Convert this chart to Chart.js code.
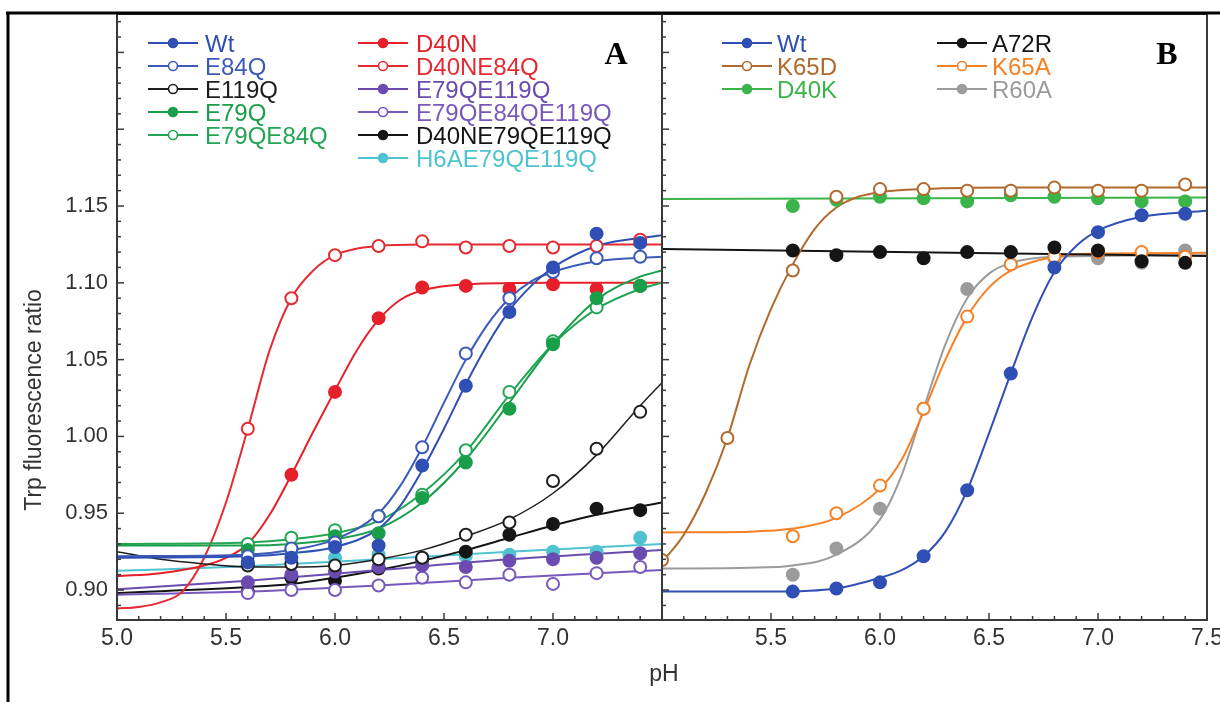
<!DOCTYPE html>
<html>
<head>
<meta charset="utf-8">
<script src="https://cdn.jsdelivr.net/npm/chart.js@4.4.1/dist/chart.umd.min.js"></script>
<style>
    html, body { margin: 0; padding: 0; background: #fff; }
    #wrap { position: relative; width: 1220px; height: 702px; }
</style>
</head>
<body>
<div id="wrap"><canvas id="chart" width="1220" height="702"></canvas></div>
<script>
// ---- panel A : measured points ----
const phA = [5.6, 5.8, 6.0, 6.2, 6.4, 6.6, 6.8, 7.0, 7.2, 7.4];
const wtA = [0.918, 0.921, 0.928, 0.929, 0.981, 1.033, 1.081, 1.110, 1.132, 1.126];
const e84qA = [0.922, 0.927, 0.931, 0.948, 0.993, 1.054, 1.090, 1.107, 1.116, 1.117];
const e119qA = [0.916, 0.917, 0.916, 0.920, 0.921, 0.936, 0.944, 0.971, 0.992, 1.016];
const e79qA = [0.926, 0.926, 0.935, 0.937, 0.960, 0.983, 1.018, 1.060, 1.090, 1.098];
const e79qe84qA = [0.930, 0.934, 0.939, 0.948, 0.962, 0.991, 1.029, 1.062, 1.084, 1.098];
const d40nA = [0.929, 0.975, 1.029, 1.077, 1.097, 1.098, 1.096, 1.099, 1.096, 1.098];
const d40ne84qA = [1.005, 1.090, 1.118, 1.124, 1.127, 1.123, 1.124, 1.123, 1.124, 1.128];
const e79qe119qA = [0.905, 0.910, 0.912, 0.915, 0.916, 0.915, 0.919, 0.920, 0.921, 0.924];
const e79qe84qe119qA = [0.898, 0.900, 0.900, 0.903, 0.908, 0.905, 0.910, 0.904, 0.911, 0.915];
const d40ne79qe119qA = [0.899, 0.908, 0.906, 0.914, 0.920, 0.925, 0.936, 0.943, 0.953, 0.952];
const h6ae79qe119qA = [0.917, 0.918, 0.921, 0.923, 0.921, 0.922, 0.923, 0.925, 0.925, 0.934];

// ---- panel A : fitted curves as [pH, ratio] ----
const fitWtA = [[5.0, 0.921], [5.6, 0.922], [5.8, 0.924], [6.0, 0.928], [6.2, 0.940], [6.3, 0.955], [6.4, 0.978], [6.5, 1.005], [6.6, 1.034], [6.7, 1.060], [6.8, 1.082], [6.9, 1.098], [7.0, 1.110], [7.2, 1.124], [7.5, 1.131]];
const fitE84qA = [[5.0, 0.922], [5.6, 0.923], [5.8, 0.926], [6.0, 0.933], [6.2, 0.950], [6.3, 0.968], [6.4, 0.993], [6.5, 1.022], [6.6, 1.050], [6.7, 1.073], [6.8, 1.090], [6.9, 1.101], [7.0, 1.107], [7.2, 1.114], [7.5, 1.117]];
const fitE119qA = [[5.0, 0.925], [5.2, 0.920], [5.4, 0.917], [5.6, 0.915], [5.8, 0.915], [6.0, 0.916], [6.2, 0.920], [6.4, 0.926], [6.6, 0.935], [6.8, 0.946], [7.0, 0.963], [7.2, 0.988], [7.4, 1.020], [7.5, 1.035]];
const fitE79qA = [[5.0, 0.929], [5.6, 0.929], [5.8, 0.930], [6.0, 0.933], [6.2, 0.940], [6.4, 0.957], [6.6, 0.985], [6.8, 1.022], [7.0, 1.060], [7.2, 1.089], [7.4, 1.104], [7.5, 1.108]];
const fitE79qe84qA = [[5.0, 0.930], [5.6, 0.931], [5.8, 0.933], [6.0, 0.937], [6.2, 0.945], [6.4, 0.963], [6.6, 0.990], [6.8, 1.027], [7.0, 1.060], [7.2, 1.083], [7.4, 1.096], [7.5, 1.100]];
const fitD40nA = [[5.0, 0.909], [5.2, 0.911], [5.4, 0.916], [5.5, 0.921], [5.6, 0.930], [5.7, 0.949], [5.8, 0.975], [5.9, 1.003], [6.0, 1.030], [6.1, 1.056], [6.2, 1.076], [6.3, 1.089], [6.4, 1.095], [6.6, 1.099], [7.0, 1.100], [7.5, 1.100]];
const fitD40ne84qA = [[5.0, 0.888], [5.1, 0.889], [5.2, 0.892], [5.3, 0.899], [5.4, 0.921], [5.5, 0.957], [5.6, 1.005], [5.7, 1.056], [5.8, 1.090], [5.9, 1.108], [6.0, 1.118], [6.2, 1.124], [6.4, 1.125], [7.5, 1.125]];
const fitE79qe119qA = [[5.0, 0.9005], [5.6, 0.906], [6.2, 0.913], [6.8, 0.920], [7.5, 0.926]];
const fitE79qe84qe119qA = [[5.0, 0.897], [5.6, 0.899], [6.2, 0.903], [6.8, 0.908], [7.5, 0.913]];
const fitD40ne79qe119qA = [[5.0, 0.898], [5.6, 0.902], [5.8, 0.904], [6.0, 0.908], [6.2, 0.913], [6.4, 0.919], [6.6, 0.926], [6.8, 0.934], [7.0, 0.942], [7.2, 0.949], [7.5, 0.957]];
const fitH6ae79qe119qA = [[5.0, 0.9125], [5.6, 0.9155], [6.2, 0.920], [6.8, 0.925], [7.5, 0.930]];

// ---- panel B : measured points ----
const phB = [5.6, 5.8, 6.0, 6.2, 6.4, 6.6, 6.8, 7.0, 7.2, 7.4];
const phK65D = [5.0, 5.3, 5.6, 5.8, 6.0, 6.2, 6.4, 6.6, 6.8, 7.0, 7.2, 7.4];
const wtB = [0.899, 0.901, 0.905, 0.922, 0.965, 1.041, 1.110, 1.133, 1.144, 1.145];
const k65dB = [0.9195, 0.999, 1.108, 1.156, 1.161, 1.161, 1.160, 1.160, 1.162, 1.160, 1.160, 1.164];
const d40kB = [1.150, 1.154, 1.156, 1.155, 1.153, 1.157, 1.156, 1.155, 1.153, 1.153];
const a72rB = [1.121, 1.118, 1.120, 1.116, 1.120, 1.120, 1.123, 1.121, 1.114, 1.113];
const k65aB = [0.935, 0.950, 0.968, 1.018, 1.078, 1.112, 1.117, 1.120, 1.120, 1.117];
const r60aB = [0.910, 0.927, 0.953, 1.018, 1.096, 1.112, 1.116, 1.116, 1.113, 1.121];

// ---- panel B : fitted curves ----
const fitWtB = [[5.0, 0.899], [5.5, 0.899], [5.8, 0.901], [6.0, 0.908], [6.1, 0.913], [6.2, 0.922], [6.3, 0.938], [6.4, 0.965], [6.5, 1.002], [6.6, 1.041], [6.7, 1.078], [6.8, 1.107], [6.9, 1.124], [7.0, 1.134], [7.2, 1.143], [7.5, 1.147]];
const fitK65dB = [[5.0, 0.918], [5.1, 0.936], [5.2, 0.963], [5.3, 0.999], [5.4, 1.046], [5.5, 1.083], [5.6, 1.112], [5.7, 1.135], [5.8, 1.149], [5.9, 1.156], [6.0, 1.159], [6.2, 1.161], [6.6, 1.162], [7.5, 1.162]];
const fitD40kB = [[5.0, 1.1545], [7.5, 1.1555]];
const fitA72rB = [[5.0, 1.122], [7.5, 1.1175]];
const fitK65aB = [[5.0, 0.9375], [5.4, 0.938], [5.6, 0.940], [5.8, 0.947], [6.0, 0.966], [6.1, 0.985], [6.2, 1.016], [6.3, 1.050], [6.4, 1.078], [6.5, 1.097], [6.6, 1.108], [6.8, 1.117], [7.0, 1.119], [7.5, 1.1195]];
const fitR60aB = [[5.0, 0.914], [5.4, 0.9145], [5.6, 0.916], [5.8, 0.923], [6.0, 0.946], [6.1, 0.975], [6.2, 1.018], [6.3, 1.060], [6.4, 1.090], [6.5, 1.106], [6.6, 1.113], [6.8, 1.117], [7.5, 1.118]];

// ---- tick labels ----
const yTickLabels = ['0.90', '0.95', '1.00', '1.05', '1.10', '1.15'];
const xTickLabelsA = ['5.0', '5.5', '6.0', '6.5', '7.0'];
const xTickLabelsB = ['5.5', '6.0', '6.5', '7.0', '7.5'];

// ---- series (name, x values, y values, curve, colour, filled marker) ----
const seriesA = [
    ['Wt', phA, wtA, fitWtA, '#2f4fb4', true],
    ['E84Q', phA, e84qA, fitE84qA, '#3c5ab8', false],
    ['E119Q', phA, e119qA, fitE119qA, '#1e1e1e', false],
    ['E79Q', phA, e79qA, fitE79qA, '#1a9e4a', true],
    ['E79QE84Q', phA, e79qe84qA, fitE79qe84qA, '#22a555', false],
    ['D40N', phA, d40nA, fitD40nA, '#e6202a', true],
    ['D40NE84Q', phA, d40ne84qA, fitD40ne84qA, '#e52a31', false],
    ['E79QE119Q', phA, e79qe119qA, fitE79qe119qA, '#6a4cb1', true],
    ['E79QE84QE119Q', phA, e79qe84qe119qA, fitE79qe84qe119qA, '#7759bd', false],
    ['D40NE79QE119Q', phA, d40ne79qe119qA, fitD40ne79qe119qA, '#151515', true],
    ['H6AE79QE119Q', phA, h6ae79qe119qA, fitH6ae79qe119qA, '#4fc3cf', true]
];
const seriesB = [
    ['Wt', phB, wtB, fitWtB, '#2f4fb4', true],
    ['K65D', phK65D, k65dB, fitK65dB, '#b1692c', false],
    ['D40K', phB, d40kB, fitD40kB, '#3bb44a', true],
    ['A72R', phB, a72rB, fitA72rB, '#151515', true],
    ['K65A', phB, k65aB, fitK65aB, '#f58026', false],
    ['R60A', phB, r60aB, fitR60aB, '#9b9b9b', true]
];

const FONT = "'Liberation Sans', Arial, sans-serif";

let datasets = [];
function addSeries(s, axisId) {
    const [name, xs, ys, fit, color, filled] = s;
    datasets.push({
        label: name,
        data: xs.map((x, i) => ({x: x, y: ys[i]})),
        xAxisID: axisId,
        yAxisID: 'y',
        showLine: false,
        pointRadius: 6,
        pointBorderWidth: 2,
        pointBorderColor: color,
        pointBackgroundColor: filled ? color : '#ffffff',
        order: 0
    });
    datasets.push({
        label: name + ' fit',
        data: fit.map(p => ({x: p[0], y: p[1]})),
        xAxisID: axisId,
        yAxisID: 'y',
        showLine: true,
        pointRadius: 0,
        borderColor: color,
        borderWidth: name === 'E119Q' ? 1.5 : 2,
        cubicInterpolationMode: 'monotone',
        fill: false,
        order: 1
    });
}
seriesA.forEach(s => addSeries(s, 'xA'));
seriesB.forEach(s => addSeries(s, 'xB'));

function line(ctx, x1, y1, x2, y2) {
    ctx.beginPath();
    ctx.moveTo(x1, y1);
    ctx.lineTo(x2, y2);
    ctx.stroke();
}

// frame, inward ticks, titles, panel letters
const framePlugin = {
    id: 'frame',
    afterDraw(chart) {
        const {ctx, chartArea: {left, right, top, bottom}, scales} = chart;
        ctx.save();
        ctx.strokeStyle = '#3a3a3a';
        ctx.lineWidth = 2;
        ctx.strokeRect(left, top, right - left, bottom - top);
        const mid = scales.xB.left;
        line(ctx, mid, top, mid, bottom);

        ctx.lineWidth = 1.5;
        scales.y.ticks.forEach(t => {
            const py = scales.y.getPixelForValue(t.value);
            const len = Math.round(t.value * 100) % 5 === 0 ? 7 : 4;
            line(ctx, left, py, left + len, py);
            line(ctx, mid, py, mid + len, py);
        });
        ['xA', 'xB'].forEach(id => {
            const s = scales[id];
            s.ticks.forEach(t => {
                const px = s.getPixelForValue(t.value);
                const len = Math.round(t.value * 10) % 5 === 0 ? 7 : 4;
                line(ctx, px, bottom, px, bottom - len);
            });
        });

        // outer figure border
        ctx.strokeStyle = '#000';
        ctx.lineWidth = 3;
        line(ctx, 6, 13, 1220, 13);
        line(ctx, 8, 12, 8, 702);

        // axis titles
        ctx.fillStyle = '#333';
        ctx.font = '23px ' + FONT;
        ctx.textAlign = 'center';
        ctx.textBaseline = 'middle';
        ctx.fillText('pH', 664, 675);
        ctx.translate(35, 400);
        ctx.rotate(-Math.PI / 2);
        ctx.fillText('Trp fluorescence ratio', 0, 0);
        ctx.setTransform(1, 0, 0, 1, 0, 0);

        ctx.fillStyle = '#000';
        ctx.font = 'bold 32px "Liberation Serif", "Times New Roman", serif';
        ctx.fillText('A', 616, 56);
        ctx.fillText('B', 1167, 56);
        ctx.restore();
    }
};

// legends drawn from the series lists
const legendLayout = [
    {series: seriesA, names: ['Wt', 'E84Q', 'E119Q', 'E79Q', 'E79QE84Q'], x0: 148, x1: 198, tx: 205, y0: 43, dy: 23},
    {series: seriesA, names: ['D40N', 'D40NE84Q', 'E79QE119Q', 'E79QE84QE119Q', 'D40NE79QE119Q', 'H6AE79QE119Q'], x0: 358, x1: 408, tx: 416, y0: 43, dy: 23},
    {series: seriesB, names: ['Wt', 'K65D', 'D40K'], x0: 722, x1: 772, tx: 777, y0: 43, dy: 23},
    {series: seriesB, names: ['A72R', 'K65A', 'R60A'], x0: 937, x1: 987, tx: 992, y0: 43, dy: 23}
];
const legendPlugin = {
    id: 'panelLegend',
    afterDraw(chart) {
        const ctx = chart.ctx;
        ctx.save();
        ctx.font = '24px ' + FONT;
        ctx.textAlign = 'left';
        ctx.textBaseline = 'alphabetic';
        legendLayout.forEach(col => {
            col.names.forEach((name, i) => {
                const s = col.series.find(r => r[0] === name);
                const color = s[4];
                const y = col.y0 + i * col.dy;
                ctx.strokeStyle = color;
                ctx.lineWidth = 1.8;
                line(ctx, col.x0, y, col.x1, y);
                ctx.beginPath();
                ctx.arc((col.x0 + col.x1) / 2, y, 4.5, 0, Math.PI * 2);
                ctx.fillStyle = s[5] ? color : '#fff';
                ctx.fill();
                ctx.lineWidth = 1.6;
                ctx.stroke();
                ctx.fillStyle = color;
                ctx.fillText(name, col.tx, y + 8.6);
            });
        });
        ctx.restore();
    }
};

const yTicks = [];
for (let k = 89; k <= 127; k++) yTicks.push(k / 100);
const xTicks = [];
for (let k = 50; k <= 75; k++) xTicks.push(k / 10);

function xScale(labels) {
    return {
        type: 'linear',
        position: 'bottom',
        stack: 'ph',
        stackWeight: 1,
        min: 5.0,
        max: 7.5,
        grid: {display: false, drawTicks: false},
        border: {display: false},
        afterBuildTicks: s => { s.ticks = xTicks.map(v => ({value: v})); },
        afterFit: s => { s.height = 82; s.paddingLeft = 0; s.paddingRight = 0; },
        ticks: {
            autoSkip: false,
            maxRotation: 0,
            padding: 5,
            color: '#333',
            font: {family: FONT, size: 23},
            callback: v => labels.includes(Number(v).toFixed(1)) ? Number(v).toFixed(1) : ''
        }
    };
}

new Chart(document.getElementById('chart'), {
    type: 'scatter',
    data: {datasets: datasets},
    options: {
        responsive: false,
        animation: false,
        devicePixelRatio: 1,
        layout: {padding: {left: 0, right: 13, top: 14, bottom: 0}},
        plugins: {legend: {display: false}, tooltip: {enabled: false}},
        scales: {
            xA: xScale(xTickLabelsA),
            xB: xScale(xTickLabelsB),
            y: {
                type: 'linear',
                position: 'left',
                min: 0.8805,
                max: 1.275,
                grid: {display: false, drawTicks: false},
                border: {display: false},
                afterBuildTicks: s => { s.ticks = yTicks.map(v => ({value: v})); },
                afterFit: s => { s.width = 117; s.paddingTop = 0; s.paddingBottom = 0; },
                ticks: {
                    autoSkip: false,
                    padding: 9,
                    color: '#333',
                    font: {family: FONT, size: 22},
                    callback: v => yTickLabels.includes(Number(v).toFixed(2)) ? Number(v).toFixed(2) : ''
                }
            }
        }
    },
    plugins: [framePlugin, legendPlugin]
});
</script>
</body>
</html>
